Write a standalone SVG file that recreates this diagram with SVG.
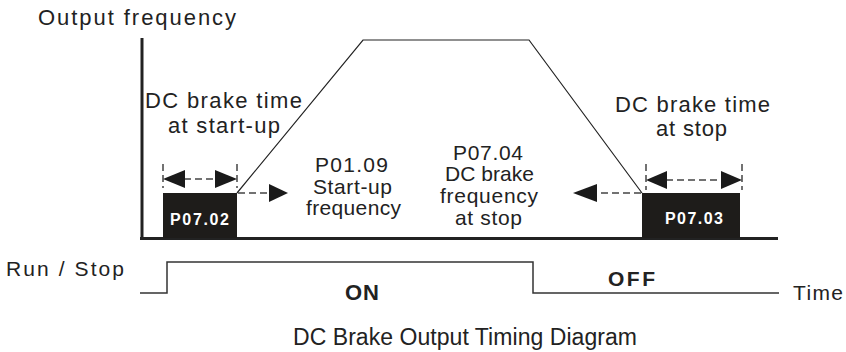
<svg xmlns="http://www.w3.org/2000/svg" width="846" height="352" viewBox="0 0 846 352">
<style>
text{font-family:"Liberation Sans",Arial,sans-serif;fill:#222}
.t21{font-size:22px}
.t20{font-size:21px}
.b{font-weight:bold}
.w{fill:#fff;font-weight:bold;font-size:16px}
.axis{stroke:#222;stroke-width:3;fill:none}
.thin{stroke:#222;stroke-width:1.2;fill:none}
.sig{stroke:#333;stroke-width:1.5;fill:none}
.dash{stroke:#444;stroke-width:1.5;stroke-dasharray:7,4;fill:none}
.head{fill:#1a1a1a}
.box{fill:#1e1c1a}
</style>
<rect width="846" height="352" fill="#fff"/>
<g id="axes">
<line class="axis" x1="142" y1="38" x2="142" y2="240"/>
<line class="axis" x1="140" y1="238.5" x2="778" y2="238.5"/>
</g>
<g id="connectors">
<polyline class="thin" points="237,193 363,40 529,40 642,193"/>
<line class="dash" x1="163" y1="164" x2="163" y2="188"/>
<line class="dash" x1="237" y1="164" x2="237" y2="188"/>
<line class="dash" x1="184" y1="179" x2="216" y2="179"/>
<polygon class="head" points="163,179 185,170 185,188"/>
<polygon class="head" points="237,179 215,170 215,188"/>
<line class="dash" x1="238" y1="193" x2="270" y2="193"/>
<polygon class="head" points="288,193 269,184 269,202"/>
<line class="dash" x1="641" y1="193" x2="597" y2="193"/>
<polygon class="head" points="573,193 597,184 597,202"/>
<line class="dash" x1="646" y1="164" x2="646" y2="190"/>
<line class="dash" x1="742" y1="164" x2="742" y2="190"/>
<line class="dash" x1="666" y1="180" x2="722" y2="180"/>
<polygon class="head" points="646,180 667,171 667,189"/>
<polygon class="head" points="742,180 721,171 721,189"/>
<polyline class="sig" points="140,293 167,293 167,262 533,262 533,293 779,293"/>
</g>
<g id="label-output-frequency">
<text class="t21" x="38" y="25" textLength="198" lengthAdjust="spacing">Output frequency</text>
</g>
<g id="box-p0702">
<rect class="box" x="163" y="193" width="74" height="45"/>
<text class="w" x="170" y="225" textLength="59" lengthAdjust="spacing">P07.02</text>
</g>
<g id="box-p0703">
<rect class="box" x="642" y="193" width="98" height="45"/>
<text class="w" x="665" y="224" textLength="58" lengthAdjust="spacing">P07.03</text>
</g>
<g id="label-start-time">
<text class="t21" x="145" y="108" textLength="157" lengthAdjust="spacing">DC brake time</text>
<text class="t21" x="168" y="133" textLength="112" lengthAdjust="spacing">at start-up</text>
</g>
<g id="label-start-freq">
<text class="t20" x="315" y="172" textLength="73" lengthAdjust="spacing">P01.09</text>
<text class="t20" x="313" y="194" textLength="79" lengthAdjust="spacing">Start-up</text>
<text class="t20" x="306" y="215" textLength="95" lengthAdjust="spacing">frequency</text>
</g>
<g id="label-stop-freq">
<text class="t20" x="453" y="160" textLength="70" lengthAdjust="spacing">P07.04</text>
<text class="t20" x="445" y="181" textLength="89" lengthAdjust="spacing">DC brake</text>
<text class="t20" x="440" y="203" textLength="98" lengthAdjust="spacing">frequency</text>
<text class="t20" x="455" y="225" textLength="67" lengthAdjust="spacing">at stop</text>
</g>
<g id="label-stop-time">
<text class="t21" x="615" y="112" textLength="155" lengthAdjust="spacing">DC brake time</text>
<text class="t21" x="656" y="136" textLength="71" lengthAdjust="spacing">at stop</text>
</g>
<g id="label-run-stop">
<text class="t20" x="6" y="276" textLength="118" lengthAdjust="spacing">Run / Stop</text>
</g>
<g id="label-on">
<text class="b" font-size="22" x="345" y="300" textLength="34" lengthAdjust="spacing">ON</text>
</g>
<g id="label-off">
<text class="b" font-size="21" x="608" y="286" textLength="47" lengthAdjust="spacing">OFF</text>
</g>
<g id="label-time">
<text class="t20" x="793" y="300" textLength="50" lengthAdjust="spacing">Time</text>
</g>
<g id="title">
<text font-size="23" x="293" y="345" textLength="344" lengthAdjust="spacing">DC Brake Output Timing Diagram</text>
</g>
</svg>
